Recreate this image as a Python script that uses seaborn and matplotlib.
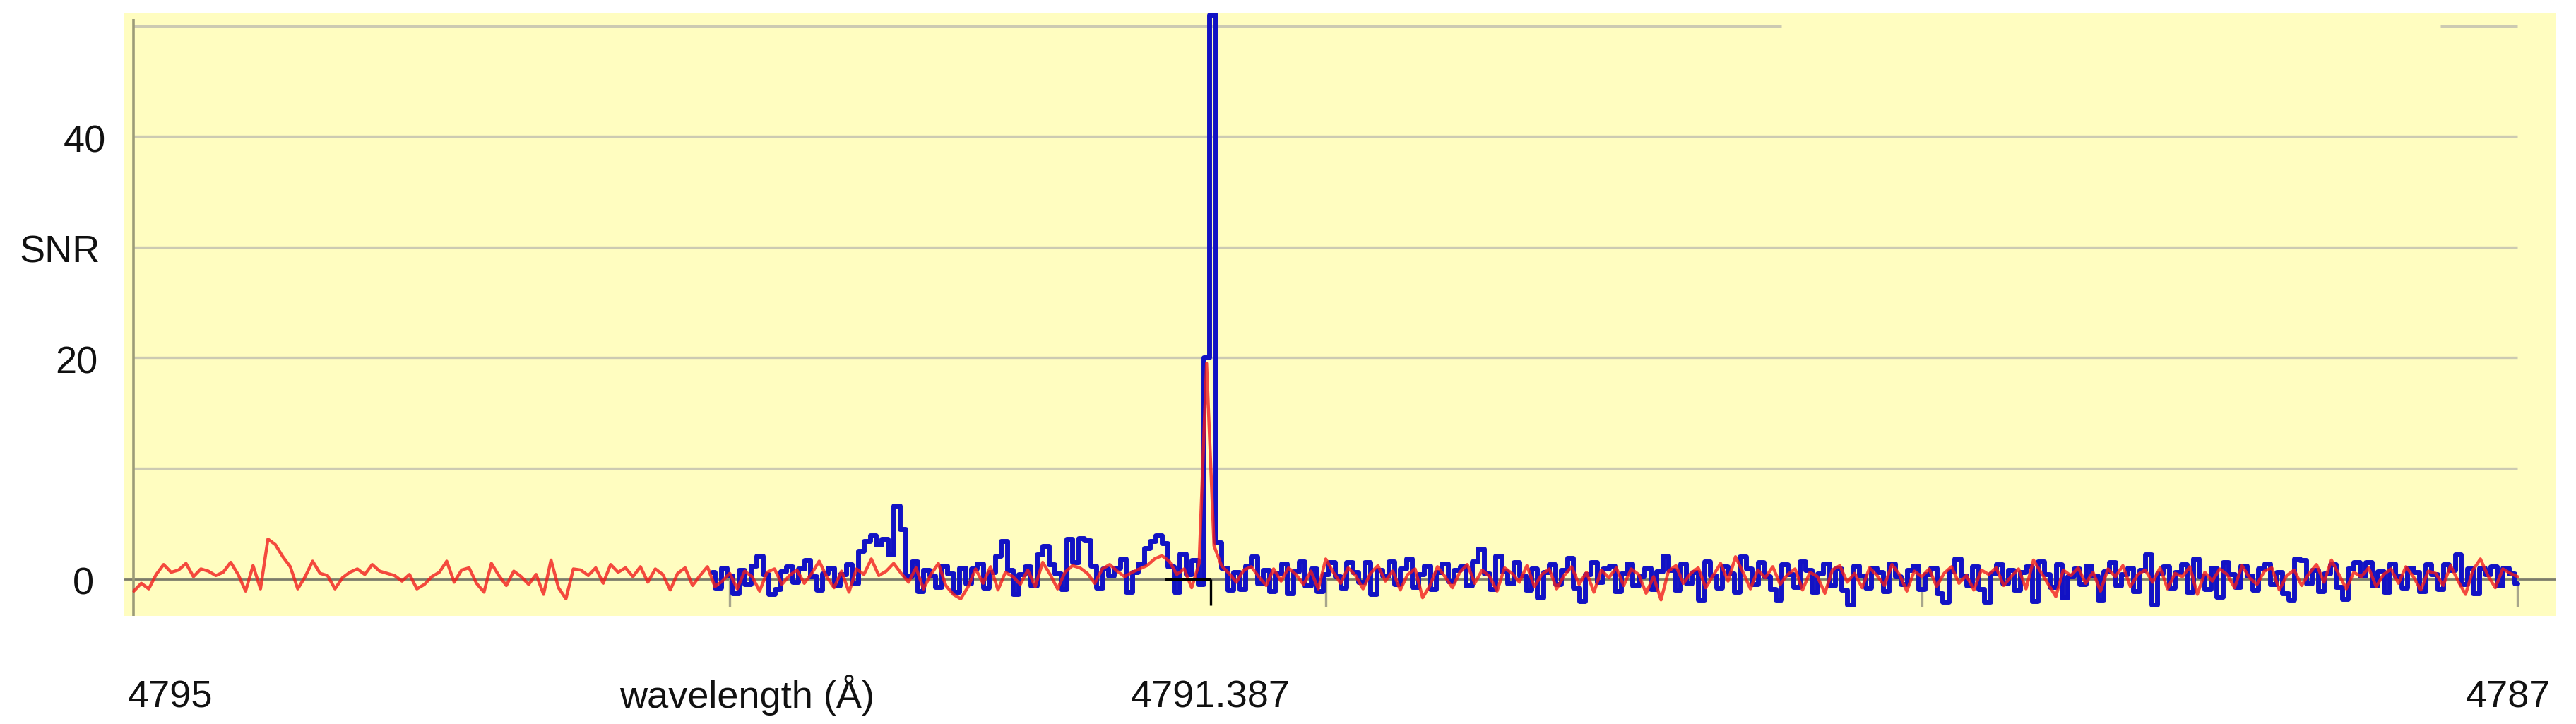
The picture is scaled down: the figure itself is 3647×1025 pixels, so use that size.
import numpy as np
import pandas as pd
import matplotlib
matplotlib.use("Agg")
import matplotlib.pyplot as plt
from matplotlib.transforms import blended_transform_factory
import seaborn as sns

# ---------------- data ----------------
red_start, red_end = 4795.0, 4787.0      # red spectrum wavelength range (Å)
blue_start, blue_end = 4793.06, 4787.0   # blue spectrum wavelength range (Å)

red_snr = [
    -1.1, -0.4, -0.9, 0.4, 1.3, 0.6, 0.8, 1.4, 0.2, 0.9, 0.7, 0.3, 0.6, 1.5, 0.4, -1.1, 1.2, -0.9, 3.6, 3.1,
    2.0, 1.1, -0.9, 0.2, 1.6, 0.5, 0.3, -0.9, 0.1, 0.6, 0.9, 0.4, 1.3, 0.7, 0.5, 0.3, -0.2, 0.4, -0.9, -0.5,
    0.2, 0.6, 1.6, -0.3, 0.8, 1.0, -0.4, -1.2, 1.4, 0.3, -0.6, 0.7, 0.2, -0.5, 0.4, -1.4, 1.7, -0.8, -1.8, 0.9,
    0.8, 0.3, 1.0, -0.4, 1.3, 0.6, 1.0, 0.2, 1.1, -0.3, 0.9, 0.4, -1.0, 0.5, 1.0, -0.6, 0.3, 1.1, -0.7, -0.2,
    0.5, -0.9, 0.7, 0.2, -1.1, 0.6, 0.9, -0.5, 0.3, 0.8, -0.4, 0.5, 1.6, 0.2, -0.8, 0.7, -1.2, 0.9, 0.4, 1.8,
    0.3, 0.7, 1.4, 0.5, -0.3, 1.0, -0.9, 0.4, 1.4, -0.6, -1.4, -1.8, -0.7, 0.9, -0.4, 1.1, -1.0, 0.6, 0.2, -0.5,
    0.8, -0.7, 1.5, 0.4, -0.9, 0.6, 1.2, 1.0, 0.5, -0.4, 0.9, 1.3, 0.7, 0.2, 0.6, 0.9, 1.2, 1.8, 2.1, 1.6,
    0.4, 0.9, -0.8, 1.4, 19.5, 3.0, 1.2, 0.5, -0.3, 0.8, 1.1, 0.2, -0.6, 0.9, -0.2, 1.0, 0.4, -0.5, 0.7, -0.9,
    1.8, 0.6, -0.4, 1.0, 0.3, -0.9, 0.5, 1.2, -0.2, 0.7, -1.0, 0.4, 0.9, -1.7, -0.6, 1.1, 0.2, -0.8, 0.6, 1.3,
    -0.4, 0.8, 0.2, -1.1, 1.0, 0.5, -0.3, 1.2, -0.7, 0.4, 0.9, -0.9, 0.3, 1.1, -0.5, 0.6, -1.2, 0.8, 0.1, 1.0,
    -0.6, 0.9, 0.4, -1.3, 0.2, -1.9, 0.7, 1.2, -0.4, 0.5, 1.0, -0.8, 0.3, 1.4, -0.2, 2.0, 0.6, -0.9, 0.8, 0.1,
    1.1, -0.5, 0.4, 0.9, -1.0, 0.6, 0.2, -1.3, 0.8, 1.2, -0.3, 0.5, -0.8, 1.0, 0.3, -0.6, 1.3, 0.4, -1.1, 0.7,
    0.2, 0.9, -0.7, 0.5, 1.1, -0.4, 0.3, -1.0, 0.8, 0.4, 1.0, -0.6, 0.2, 0.9, -0.9, 1.7, 0.6, -0.5, -1.6, 0.8,
    0.3, 1.0, -0.4, 0.6, -1.1, 0.9, 0.2, 1.2, -0.7, 0.4, 0.8, -0.3, 1.0, -0.9, 0.5, 0.2, 1.1, -1.4, 0.6, -0.2,
    0.9, 0.4, -0.8, 1.2, 0.1, -0.5, 0.7, 1.0, -1.0, 0.3, 0.8, -0.6, 0.5, 1.3, -0.3, 1.7, 0.4, -0.9, 0.6, 0.2,
    1.0, -0.7, 0.4, 0.9, -0.4, 1.1, 0.2, -1.0, 0.7, 0.5, -0.6, 1.2, -0.2, -1.4, 0.8, 1.8, 0.3, -0.8, 0.9, 0.5, 0.2,
]

blue_snr = [
    0.6, -0.8, 1.0, 0.3, -1.3, 0.8, -0.5, 1.2, 2.1, 0.4, -1.4, -0.9, 0.7, 1.1, -0.3, 0.9, 1.7, 0.2, -1.0, 0.5,
    1.0, -0.6, 0.4, 1.3, -0.4, 2.5, 3.4, 3.9, 3.1, 3.6, 2.2, 6.6, 4.5, 0.2, 1.6, -1.1, 0.8, 0.3, -0.7, 1.2,
    0.5, -1.2, 1.0, -0.4, 0.9, 1.4, -0.8, 0.6, 2.1, 3.4, 0.8, -1.4, 0.4, 1.1, -0.6, 2.2, 3.0, 1.3, 0.5, -0.9,
    3.6, 1.5, 3.7, 3.5, 1.2, -0.8, 0.9, 0.3, 1.0, 1.8, -1.2, 0.6, 1.4, 2.8, 3.4, 3.9, 3.2, 1.1, -1.2, 2.3,
    0.4, 1.7, -0.5, 20.0, 51.0, 3.3, 1.0, -1.0, 0.6, -0.9, 1.2, 2.0, -0.4, 0.8, -1.1, 0.5, 1.4, -1.3, 0.7, 1.6,
    -0.6, 0.9, -1.1, 0.4, 1.5, 0.2, -0.8, 1.5, 0.6, -0.3, 1.5, -1.4, 0.8, 0.3, 1.6, -0.5, 0.9, 1.8, -0.7, 0.4,
    1.2, -0.9, 0.6, 1.4, -0.2, 0.8, 1.1, -0.6, 1.6, 2.7, 0.5, -0.9, 2.1, 0.7, -0.4, 1.5, 0.3, -1.0, 0.9, -1.7,
    0.6, 1.3, -0.5, 0.8, 1.9, -0.8, -2.0, 0.4, 1.5, -0.3, 0.9, 1.2, -1.1, 0.5, 1.4, -0.6, 0.2, 1.0, -0.9, 0.7,
    2.1, 0.8, -1.0, 1.4, -0.4, 0.6, -1.9, 1.6, 0.3, -0.8, 1.1, 0.5, -1.2, 2.0, 0.9, -0.5, 1.5, 0.2, -0.9, -1.9,
    1.3, 0.4, -0.7, 1.6, 0.8, -1.2, 0.5, 1.4, -0.6, 0.9, -1.0, -2.3, 1.2, 0.3, -0.8, 1.0, 0.6, -1.1, 1.4, 0.2,
    -0.5, 0.8, 1.2, -0.9, 0.4, 1.0, -1.3, -2.1, 0.7, 1.8, 0.3, -0.6, 1.1, -0.9, -2.1, 0.5, 1.3, -0.4, 0.8, -1.0,
    0.6, 1.1, -2.0, 1.6, 0.4, -0.7, 1.3, -1.7, 0.2, 0.9, -0.5, 1.2, 0.3, -1.9, 0.7, 1.5, -0.6, 0.4, 1.0, -1.1,
    0.8, 2.2, -2.3, 0.5, 1.1, -0.8, 0.6, 1.3, -1.2, 1.8, 0.2, -0.9, 1.0, -1.6, 1.5, 0.4, -0.7, 1.2, 0.3, -1.0,
    0.9, 1.4, -0.5, 0.6, -1.3, -1.9, 1.8, 1.7, -0.4, 0.8, -1.1, 0.5, 1.3, -0.7, -1.8, 0.9, 1.5, 0.3, 1.5, -0.6,
    0.7, -1.2, 1.4, 0.2, -0.8, 1.0, 0.6, -1.1, 1.3, 0.4, -0.9, 1.3, 0.8, 2.2, -0.5, 0.9, -1.3, 1.0, 0.4, 1.1,
    -0.6, 1.0, 0.5, -0.4,
]

line_wavelength = 4791.387
major_ticks = [4793, 4791, 4789, 4787]
grid_values = [10, 20, 30, 40]
y_labels = ["40", "SNR", "20", "0"]
y_label_values = [40, 30, 20, 0]
x_labels = ["4795", "wavelength (Å)", "4791.387", "4787"]

# ---------------- frames ----------------
red_df = pd.DataFrame({"wavelength": np.linspace(red_start, red_end, len(red_snr)),
                       "snr": red_snr})
blue_df = pd.DataFrame({"wavelength": np.linspace(blue_start, blue_end, len(blue_snr)),
                        "snr": blue_snr})

# ---------------- styling ----------------
sns.set_theme(style="white")
plt.rcParams["font.family"] = ["Liberation Sans", "DejaVu Sans"]

W, H = 3647, 1025
fig = plt.figure(figsize=(W / 100, H / 100), dpi=100)
fig.patch.set_facecolor("white")
ax_l, ax_r, ax_t, ax_b = 176, 3618, 18, 872
ax = fig.add_axes([ax_l / W, 1 - ax_b / H, (ax_r - ax_l) / W, (ax_b - ax_t) / H])
ax.set_facecolor("#FFFDC0")
for s in ax.spines.values():
    s.set_visible(False)

ax.set_xlim(4795.032, 4786.873)
ax.set_ylim(-3.35, 51.2)

grid_c = "#CCCAB2"
ax.hlines(grid_values, 4795, 4787, color=grid_c, lw=2.4, zorder=1)
ax.hlines(50, 4795, 4789.47, color=grid_c, lw=2.4, zorder=1)
ax.hlines(50, 4787.26, 4787, color=grid_c, lw=2.4, zorder=1)
ax.axhline(0, color="#7C7C6A", lw=2.0, zorder=2)
ax.vlines(4795, -3.35, 50.6, color="#9C9C78", lw=2.6, zorder=2)
ax.vlines(major_ticks, -2.5, 0, color="#A8A68C", lw=2.4, zorder=2)

sns.lineplot(data=blue_df, x="wavelength", y="snr", ax=ax, color="#1212C4",
             linewidth=5.0, drawstyle="steps-mid", estimator=None, zorder=3)
sns.lineplot(data=red_df, x="wavelength", y="snr", ax=ax, color="#F21C1C",
             linewidth=3.2, alpha=0.8, estimator=None, zorder=4)

ax.hlines(0, 4791.54, line_wavelength, color="black", lw=2.4, zorder=5)
ax.vlines(line_wavelength, -2.4, 0, color="black", lw=2.4, zorder=5)

ax.set_xticks([])
ax.set_yticks([])
ax.set_xlabel("")
ax.set_ylabel("")

fs = 39
# y-side labels
y_centers_px = [120, 85, 108, 118]
ty = blended_transform_factory(fig.transFigure, ax.transData)
for lab, val, cx in zip(y_labels, y_label_values, y_centers_px):
    ax.text(cx / W, val - 0.5, lab, transform=ty, ha="center", va="center",
            fontsize=fs, color="#111111", clip_on=False)

# x-side labels
tx = blended_transform_factory(ax.transData, fig.transFigure)
base_y = 1 - 1002 / H
ax.text(4795.02, base_y, x_labels[0], transform=tx, ha="left", va="baseline",
        fontsize=fs, color="#111111")
fig.text(1058 / W, base_y, x_labels[1], ha="center", va="baseline",
         fontsize=fs, color="#111111")
ax.text(line_wavelength, base_y, x_labels[2], transform=tx, ha="center", va="baseline",
        fontsize=fs, color="#111111")
fig.text(3611 / W, base_y, x_labels[3], ha="right", va="baseline",
         fontsize=fs, color="#111111")

fig.savefig("out.png", dpi=100, facecolor="white")
